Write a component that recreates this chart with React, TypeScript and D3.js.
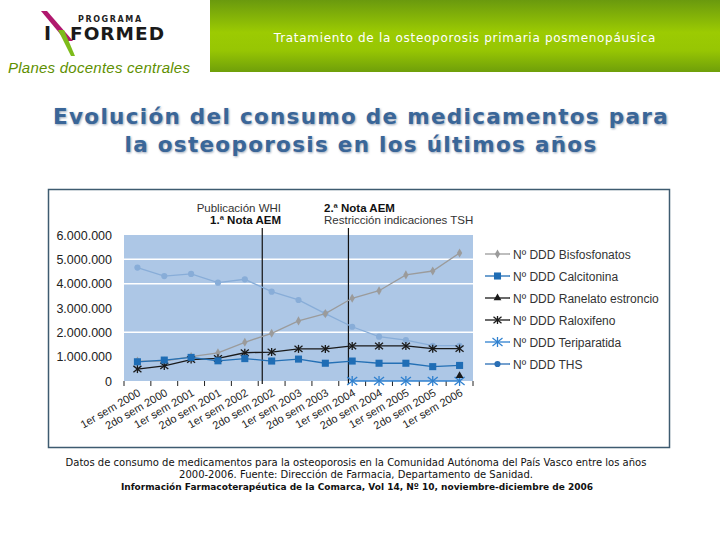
import React from "react";
import * as d3 from "d3";

const categories = [
  "1er sem 2000", "2do sem 2000", "1er sem 2001", "2do sem 2001", "1er sem 2002",
  "2do sem 2002", "1er sem 2003", "2do sem 2003", "1er sem 2004", "2do sem 2004",
  "1er sem 2005", "2do sem 2005", "1er sem 2006",
];
const bisfosfonatos = [820000, 820000, 1000000, 1160000, 1590000, 1960000, 2470000, 2770000, 3400000, 3710000, 4360000, 4520000, 5260000];
const calcitonina = [790000, 860000, 970000, 830000, 920000, 820000, 900000, 730000, 820000, 730000, 730000, 590000, 640000];
const ranelato: (number | null)[] = [null, null, null, null, null, null, null, null, null, null, null, null, 220000];
const raloxifeno = [490000, 620000, 880000, 930000, 1160000, 1190000, 1320000, 1320000, 1440000, 1440000, 1440000, 1330000, 1330000];
const teriparatida: (number | null)[] = [null, null, null, null, null, null, null, null, 0, 0, 0, 0, 0];
const ths = [4660000, 4310000, 4400000, 4040000, 4180000, 3670000, 3330000, 2770000, 2230000, 1820000, 1680000, 1450000, 1450000];

const yTicks = [0, 1000000, 2000000, 3000000, 4000000, 5000000, 6000000];
const gridValues = [2000000, 4000000, 5000000];
const events = [
  { pos: 4.65, lines: ["Publicación WHI", "1.ª Nota AEM"], bold: [false, true], side: "left" },
  { pos: 7.86, lines: ["2.ª Nota AEM", "Restricción indicaciones TSH"], bold: [true, false], side: "right" },
];

type Series = { name: string; values: (number | null)[]; line: string; marker: string; legendColor: string; symbol: string; size: number };
const series: Series[] = [
  { name: "Nº DDD THS", values: ths, line: "#88add8", marker: "#88add8", legendColor: "#2a6fb5", symbol: "circle", size: 30 },
  { name: "Nº DDD Bisfosfonatos", values: bisfosfonatos, line: "#9b9b9b", marker: "#9b9b9b", legendColor: "#9b9b9b", symbol: "diamond", size: 24 },
  { name: "Nº DDD Raloxifeno", values: raloxifeno, line: "#1a1a1a", marker: "#1a1a1a", legendColor: "#1a1a1a", symbol: "star", size: 4 },
  { name: "Nº DDD Calcitonina", values: calcitonina, line: "#2470b5", marker: "#1f6db5", legendColor: "#1f6db5", symbol: "square", size: 50 },
  { name: "Nº DDD Teriparatida", values: teriparatida, line: "#2f80cf", marker: "#2f80cf", legendColor: "#2f80cf", symbol: "star", size: 5 },
  { name: "Nº DDD Ranelato estroncio", values: ranelato, line: "#1a1a1a", marker: "#1a1a1a", legendColor: "#1a1a1a", symbol: "triangle", size: 26 },
];
const legendOrder = [
  "Nº DDD Bisfosfonatos", "Nº DDD Calcitonina", "Nº DDD Ranelato estroncio",
  "Nº DDD Raloxifeno", "Nº DDD Teriparatida", "Nº DDD THS",
];

const plot = { left: 124, right: 473, top: 235, bottom: 381 };
const x = d3.scaleLinear().domain([-0.5, categories.length - 0.5]).range([plot.left, plot.right]);
const y = d3.scaleLinear().domain([0, 6000000]).range([plot.bottom, plot.top]);
const fmt = d3.formatLocale({ decimal: ",", thousands: ".", grouping: [3], currency: ["", "€"] }).format(",");

function Marker({ s, cx, cy, color }: { s: Series; cx: number; cy: number; color: string }) {
  if (s.symbol === "star") {
    const r = s.size;
    return (
      <g transform={`translate(${cx},${cy})`} stroke={color} strokeWidth={1.3} fill="none">
        <line x1={-r} y1={-r * 0.8} x2={r} y2={r * 0.8} />
        <line x1={-r} y1={r * 0.8} x2={r} y2={-r * 0.8} />
        <line x1={0} y1={-r} x2={0} y2={r} />
      </g>
    );
  }
  const typ =
    s.symbol === "circle" ? d3.symbolCircle :
    s.symbol === "diamond" ? d3.symbolDiamond :
    s.symbol === "square" ? d3.symbolSquare : d3.symbolTriangle;
  const p = d3.symbol().type(typ).size(s.size)();
  return <path d={p || ""} transform={`translate(${cx},${cy})`} fill={color} />;
}

export default function App() {
  const lineGen = d3
    .line<number | null>()
    .defined((d) => d !== null)
    .x((_, i) => x(i))
    .y((d) => y(d as number));

  return (
    <svg width={720} height={540} style={{ position: "absolute", left: 0, top: 0, background: "#fff" }}>
      <defs>
        <linearGradient id="hdr" x1="0" y1="0" x2="0" y2="1">
          <stop offset="0" stopColor="#6a9a0e" />
          <stop offset="0.45" stopColor="#9ccb02" />
          <stop offset="0.7" stopColor="#97c603" />
          <stop offset="1" stopColor="#6f9f0a" />
        </linearGradient>
        <filter id="blur" x="-5%" y="-20%" width="110%" height="140%">
          <feGaussianBlur stdDeviation="0.8" />
        </filter>
      </defs>
      {/* Header */}
      <rect x={210} y={0} width={510} height={72} fill="url(#hdr)" />
      <text x={465} y={42} textAnchor="middle" fill="#ffffff" fontFamily="DejaVu Sans" fontSize={12} letterSpacing={0.7}>
        Tratamiento de la osteoporosis primaria posmenopáusica
      </text>
      {/* Logo */}
      <text x={78} y={22} fontFamily="DejaVu Sans" fontWeight="bold" fontSize={8} letterSpacing={1.6} fill="#222">PROGRAMA</text>
      <path d="M41,11 L47,11 L73,41 L66,41 Z" fill="#b0186e" />
      <path d="M58,30 L64,30 L75,56 L71,56 Z" fill="#7dbb1a" />
      <text x={44} y={40} fontFamily="DejaVu Sans" fontWeight="bold" fontSize={19} fill="#1a1a1a">I</text>
      <text x={70} y={40} fontFamily="DejaVu Sans" fontWeight="bold" fontSize={18.5} letterSpacing={1} fill="#1a1a1a">FORMED</text>
      <text x={8} y={73} fontFamily="Liberation Sans" fontStyle="italic" fontSize={15} fill="#5e8f00" letterSpacing={0.25}>
        Planes docentes centrales
      </text>

      {/* Title */}
      <g fontFamily="DejaVu Sans" fontWeight="bold" fontSize={21.5} textAnchor="middle" letterSpacing={1.3}>
        <g filter="url(#blur)" fill="#9aa6b8">
          <text x={362} y={125}>Evolución del consumo de medicamentos para</text>
          <text x={362} y={153}>la osteoporosis en los últimos años</text>
        </g>
        <text x={361} y={124} fill="#3a6698">Evolución del consumo de medicamentos para</text>
        <text x={361} y={152} fill="#3a6698">la osteoporosis en los últimos años</text>
      </g>

      {/* Chart box */}
      <rect x={48.5} y={189.5} width={621} height={258} fill="#ffffff" stroke="#3e5b70" strokeWidth={1.5} />
      <rect x={plot.left} y={plot.top} width={plot.right - plot.left} height={plot.bottom - plot.top} fill="#adc7e6" />
      {gridValues.map((g) => (
        <line key={g} x1={plot.left} x2={plot.right} y1={y(g)} y2={y(g)} stroke="#ffffff" strokeWidth={1.5} />
      ))}
      {/* Y ticks */}
      {yTicks.map((t) => (
        <text key={t} x={112} y={y(t) + 4.5} textAnchor="end" fontFamily="Liberation Sans" fontSize={12.5} fill="#222">
          {fmt(t)}
        </text>
      ))}
      {/* X ticks */}
      {d3.range(categories.length + 1).map((k) => (
        <line key={k} x1={x(k - 0.5)} x2={x(k - 0.5)} y1={plot.bottom} y2={plot.bottom + 5} stroke="#222" strokeWidth={1} />
      ))}
      {categories.map((c, i) => (
        <text
          key={c + i}
          transform={`translate(${x(i) + 4},${plot.bottom + 14}) rotate(-30)`}
          textAnchor="end"
          fontFamily="Liberation Sans"
          fontSize={11}
          fill="#222"
        >
          {c}
        </text>
      ))}

      {/* Event lines */}
      {events.map((e, j) => (
        <g key={j}>
          <line x1={x(e.pos)} x2={x(e.pos)} y1={228} y2={plot.bottom + 3} stroke="#111" strokeWidth={1.2} />
          {e.lines.map((t, k) => (
            <text
              key={k}
              x={e.side === "left" ? 281 : 324}
              y={212 + k * 12}
              textAnchor={e.side === "left" ? "end" : "start"}
              fontFamily="Liberation Sans"
              fontSize={11.5}
              fontWeight={e.bold[k] ? "bold" : "normal"}
              fill={e.bold[k] ? "#111" : "#333"}
            >
              {t}
            </text>
          ))}
        </g>
      ))}

      {/* Series */}
      {series.map((s) => (
        <g key={s.name}>
          <path d={lineGen(s.values) || ""} fill="none" stroke={s.line} strokeWidth={1.3} />
          {s.values.map((v, i) =>
            v === null ? null : <Marker key={i} s={s} cx={x(i)} cy={y(v)} color={s.marker} />
          )}
        </g>
      ))}

      {/* Legend */}
      {legendOrder.map((name, i) => {
        const s = series.find((q) => q.name === name)!;
        const cy = 254 + i * 22;
        return (
          <g key={name}>
            <line x1={485} x2={510} y1={cy} y2={cy} stroke={s.legendColor} strokeWidth={1.3} />
            <Marker s={s} cx={497.5} cy={cy} color={s.legendColor} />
            <text x={513} y={cy + 4.5} fontFamily="Liberation Sans" fontSize={12} fill="#333">{name}</text>
          </g>
        );
      })}

      {/* Footnote */}
      <g fontFamily="DejaVu Sans" textAnchor="middle" fill="#111">
        <text x={356} y={466} fontSize={10}>
          Datos de consumo de medicamentos para la osteoporosis en la Comunidad Autónoma del País Vasco entre los años
        </text>
        <text x={356} y={478} fontSize={10}>2000-2006. Fuente: Dirección de Farmacia, Departamento de Sanidad.</text>
        <text x={357} y={490} fontSize={9} fontWeight="bold">
          Información Farmacoterapéutica de la Comarca, Vol 14, Nº 10, noviembre-diciembre de 2006
        </text>
      </g>
    </svg>
  );
}
